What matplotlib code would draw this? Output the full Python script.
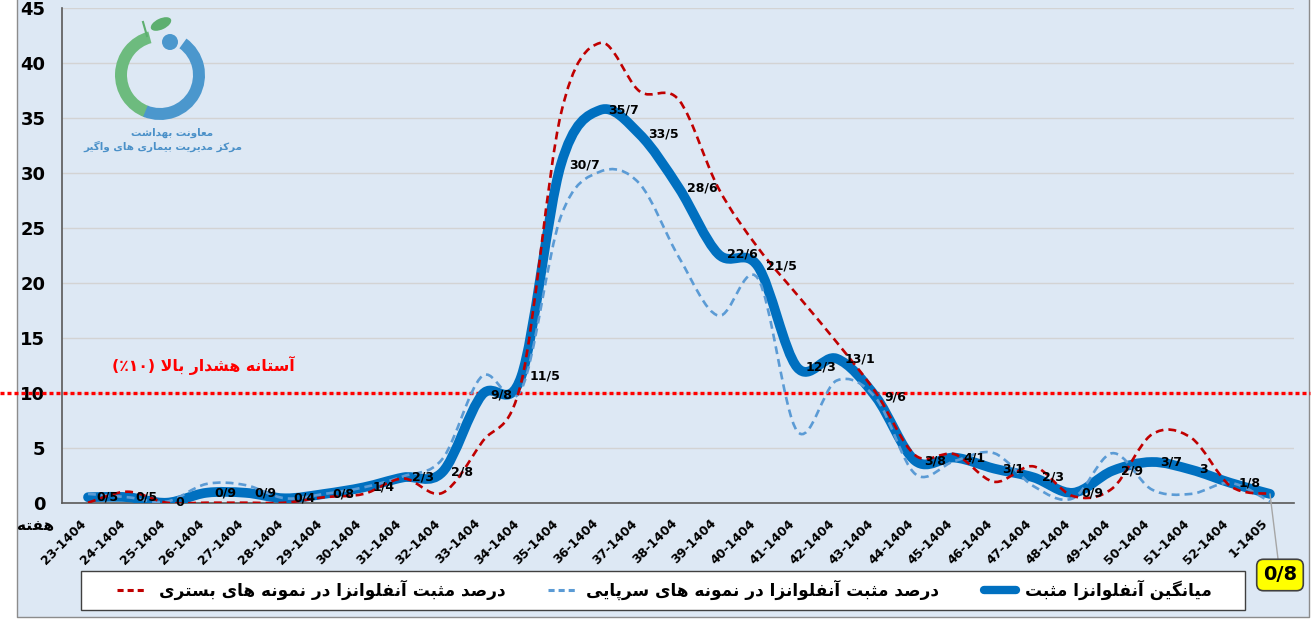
import numpy as np
import matplotlib
matplotlib.use('Agg')
import matplotlib.pyplot as plt
import matplotlib.transforms as mtransforms
from matplotlib.path import Path
from matplotlib.patches import PathPatch, Rectangle, Wedge, Circle, Ellipse
from matplotlib.lines import Line2D

# weeks (category axis)
weeks = ['23-1404', '24-1404', '25-1404', '26-1404', '27-1404', '28-1404', '29-1404',
         '30-1404', '31-1404', '32-1404', '33-1404', '34-1404', '35-1404', '36-1404',
         '37-1404', '38-1404', '39-1404', '40-1404', '41-1404', '42-1404', '43-1404',
         '44-1404', '45-1404', '46-1404', '47-1404', '48-1404', '49-1404', '50-1404',
         '51-1404', '52-1404', '1-1405']

# mean positive influenza (%)
mean_pos = [0.5, 0.5, 0, 0.9, 0.9, 0.4, 0.8, 1.4, 2.3, 2.8, 9.8, 11.5, 30.7, 35.7, 33.5,
            28.6, 22.6, 21.5, 12.3, 13.1, 9.6, 3.8, 4.1, 3.1, 2.3, 0.9, 2.9, 3.7, 3, 1.8, 0.8]
# outpatient samples (%)
outpatient = [0.8, 0.5, 0.1, 1.7, 1.6, 0.4, 0.8, 1.4, 2.4, 4.0, 11.5, 10.3, 26.0, 30.1, 29.0,
              22.3, 17.0, 20.4, 6.5, 11.1, 9.5, 2.6, 3.8, 4.5, 1.5, 0.4, 4.5, 1.2, 0.8, 1.8, 0.1]
# inpatient samples (%)
inpatient = [0, 1.0, 0, 0, 0, 0, 0.5, 0.8, 2.2, 0.9, 5.5, 11.0, 35.3, 41.8, 37.4,
             36.6, 28.6, 23.2, 18.9, 14.6, 10.0, 4.3, 4.4, 1.9, 3.3, 0.6, 1.3, 6.2, 5.9, 1.5, 0.8]

threshold = 10
yticks = [0, 5, 10, 15, 20, 25, 30, 35, 40, 45]

BG = '#DDE8F4'
W, H = 1312, 636

# --- tiny persian shaper (matplotlib has no complex text layout) ---
FORMS = {
    'آ': ('\uFE81', '\uFE82', None, None),
    'ا': ('\uFE8D', '\uFE8E', None, None),
    'ب': ('\uFE8F', '\uFE90', '\uFE91', '\uFE92'),
    'پ': ('\uFB56', '\uFB57', '\uFB58', '\uFB59'),
    'ت': ('\uFE95', '\uFE96', '\uFE97', '\uFE98'),
    'ث': ('\uFE99', '\uFE9A', '\uFE9B', '\uFE9C'),
    'د': ('\uFEA9', '\uFEAA', None, None),
    'ر': ('\uFEAD', '\uFEAE', None, None),
    'ز': ('\uFEAF', '\uFEB0', None, None),
    'س': ('\uFEB1', '\uFEB2', '\uFEB3', '\uFEB4'),
    'ش': ('\uFEB5', '\uFEB6', '\uFEB7', '\uFEB8'),
    'ص': ('\uFEB9', '\uFEBA', '\uFEBB', '\uFEBC'),
    'ع': ('\uFEC9', '\uFECA', '\uFECB', '\uFECC'),
    'ف': ('\uFED1', '\uFED2', '\uFED3', '\uFED4'),
    'ک': ('\uFB8E', '\uFB8F', '\uFB90', '\uFB91'),
    'گ': ('\uFB92', '\uFB93', '\uFB94', '\uFB95'),
    'ل': ('\uFEDD', '\uFEDE', '\uFEDF', '\uFEE0'),
    'م': ('\uFEE1', '\uFEE2', '\uFEE3', '\uFEE4'),
    'ن': ('\uFEE5', '\uFEE6', '\uFEE7', '\uFEE8'),
    'ه': ('\uFEE9', '\uFEEA', '\uFEEB', '\uFEEC'),
    'و': ('\uFEED', '\uFEEE', None, None),
    'ی': ('\uFBFC', '\uFBFD', '\uFBFE', '\uFBFF'),
}
LAM_ALEF = {'ا': ('\uFEFB', '\uFEFC'), 'آ': ('\uFEF5', '\uFEF6')}


def shape(text):
    out = []
    i = 0
    while i < len(text):
        c = text[i]
        if c not in FORMS:
            out.append(c)
            i += 1
            continue
        prev = text[i - 1] if i > 0 else None
        joins_prev = prev in FORMS and FORMS[prev][2] is not None
        if c == 'ل' and i + 1 < len(text) and text[i + 1] in LAM_ALEF:
            out.append(LAM_ALEF[text[i + 1]][1 if joins_prev else 0])
            i += 2
            continue
        nxt = text[i + 1] if i + 1 < len(text) else None
        joins_next = FORMS[c][2] is not None and nxt in FORMS
        iso, fin, ini, med = FORMS[c]
        if joins_prev and joins_next:
            out.append(med)
        elif joins_prev:
            out.append(fin)
        elif joins_next:
            out.append(ini)
        else:
            out.append(iso)
        i += 1
    return ''.join(out)


def rtl(text):
    return shape(text)[::-1]


def smooth_path(xs, ys):
    # excel style smoothed line: cubic bezier through every point
    pts = np.column_stack([xs, ys]).astype(float)
    n = len(pts)
    verts = [pts[0]]
    codes = [Path.MOVETO]
    for i in range(n - 1):
        p0 = pts[i - 1] if i > 0 else pts[i]
        p1, p2 = pts[i], pts[i + 1]
        p3 = pts[i + 2] if i + 2 < n else pts[i + 1]
        verts += [p1 + (p2 - p0) / 6, p2 - (p3 - p1) / 6, p2]
        codes += [Path.CURVE4] * 3
    return Path(verts, codes)


def Y(v):
    return H - v


fig = plt.figure(figsize=(W / 100, H / 100), dpi=100, facecolor=BG)

# background outside the chart frame
bg = fig.add_axes([0, 0, 1, 1], zorder=-1)
bg.set_xlim(0, W)
bg.set_ylim(0, H)
bg.axis('off')
bg.add_patch(Rectangle((0, 0), W, Y(617), fc='white', ec='none'))
bg.add_patch(Rectangle((0, 0), 17, H, fc='white', ec='none'))
bg.add_patch(Rectangle((1309, 0), W - 1309, H, fc='white', ec='none'))
bg.plot([17, 17, 1309, 1309], [H, Y(617), Y(617), H], color='#8C8C8C', lw=1)

ax = fig.add_axes([62 / W, 1 - 502.7 / H, (1294 - 62) / W, (502.7 - 7.7) / H])
ax.set_facecolor(BG)
x = np.arange(len(weeks))
ax.set_xlim(-0.66, 30.61)
ax.set_ylim(0, 45)
ax.set_yticks(yticks)
ax.set_yticklabels([str(t) for t in yticks], fontsize=13, fontweight='bold')
ax.yaxis.grid(True, color='#D3D3D3', lw=1)
ax.set_axisbelow(True)
for s in ['top', 'right']:
    ax.spines[s].set_visible(False)
for s in ['left', 'bottom']:
    ax.spines[s].set_color('#595959')
    ax.spines[s].set_linewidth(1.2)
ax.tick_params(axis='both', length=0)
ax.tick_params(axis='y', pad=12)
ax.tick_params(axis='x', pad=13.5)
ax.set_xticks(x)
ax.set_xticklabels(weeks, rotation=45, ha='right', va='center', rotation_mode='anchor',
                   fontsize=9, fontweight='bold')
shift = mtransforms.ScaledTranslation(-0.04, 0, fig.dpi_scale_trans)
for lab in ax.get_xticklabels():
    lab.set_transform(lab.get_transform() + shift)

# threshold line across the whole chart
blend = mtransforms.blended_transform_factory(ax.transAxes, ax.transData)
ax.plot([(0 - 62) / 1232, (1310 - 62) / 1232], [threshold, threshold], transform=blend,
        color='#FF0000', lw=2.4, ls=(0, (1.2, 0.9)), dash_capstyle='butt', clip_on=False, zorder=2)

ax.add_patch(PathPatch(smooth_path(x, mean_pos), fill=False, ec='#0070C0', lw=7,
                       capstyle='round', joinstyle='round', zorder=3))
ax.add_patch(PathPatch(smooth_path(x, outpatient), fill=False, ec='#5B9BD5', lw=1.9,
                       ls=(0, (3, 1.9)), zorder=4))
ax.add_patch(PathPatch(smooth_path(x, inpatient), fill=False, ec='#C00000', lw=1.9,
                       ls=(0, (3, 1.9)), zorder=5))

for i, v in enumerate(mean_pos[:-1]):
    ax.annotate(f'{v:g}'.replace('.', '/'), (x[i], v), xytext=(6, 0), textcoords='offset points',
                ha='left', va='center', fontsize=9, fontweight='bold', zorder=6)
ax.annotate(f'{mean_pos[-1]:g}'.replace('.', '/'), (x[-1], mean_pos[-1]), xytext=(1280, Y(575)),
            textcoords='figure pixels', ha='center', va='center', fontsize=14, fontweight='bold',
            bbox=dict(boxstyle='round,pad=0.32,rounding_size=0.35', fc='#FFFF00', ec='#404040', lw=1.2),
            arrowprops=dict(arrowstyle='-', color='#A6A6A6', lw=1, shrinkA=0, shrinkB=0),
            annotation_clip=False, zorder=6)

# overlay for texts, legend and logo (pixel coords)
ov = fig.add_axes([0, 0, 1, 1], zorder=10)
ov.set_xlim(0, W)
ov.set_ylim(0, H)
ov.axis('off')
ov.patch.set_alpha(0)

ov.text(203, Y(365), '(٪۱۰) ' + rtl('آستانه هشدار بالا'), color='#FF0000', fontsize=11.3,
        fontweight='bold', ha='center', va='center')
ov.text(36, Y(526), rtl('هفته'), fontsize=11, fontweight='bold', ha='center', va='center')

# legend
ov.add_patch(Rectangle((81, Y(610)), 1164, 39, fc='white', ec='#404040', lw=1))
ly = Y(590)
ov.add_line(Line2D([117, 146], [ly, ly], color='#C00000', lw=2.2, ls=(0, (2, 1.3))))
ov.text(159, ly, rtl('درصد مثبت آنفلوانزا در نمونه های بستری'), fontsize=12.2, fontweight='bold',
        ha='left', va='center')
ov.add_line(Line2D([548, 577], [ly, ly], color='#5B9BD5', lw=2.2, ls=(0, (2, 1.3))))
ov.text(586, ly, rtl('درصد مثبت آنفلوانزا در نمونه های سرپایی'), fontsize=12.2, fontweight='bold',
        ha='left', va='center')
ov.add_line(Line2D([984, 1016], [ly, ly], color='#0070C0', lw=6, solid_capstyle='round'))
ov.text(1025, ly, rtl('میانگین آنفلوانزا مثبت'), fontsize=12.2, fontweight='bold',
        ha='left', va='center')

# logo
c = (160, Y(75))
ov.add_patch(Wedge(c, 45, 105, 250, width=12, fc='#6DBB7E', ec='none'))
ov.add_patch(Wedge(c, 45, -112, 54, width=12, fc='#4B97CD', ec='none'))
ov.add_patch(Circle((170, Y(42)), 8, fc='#4B97CD', ec='none'))
ov.add_patch(Ellipse((161, Y(24)), 22, 11, angle=25, fc='#5DAF70', ec='none'))
ov.add_line(Line2D([143, 147], [Y(22), Y(36)], color='#5DAF70', lw=1.5))
ov.text(172, Y(133), rtl('معاونت بهداشت'), fontsize=7.5, fontweight='bold', color='#4A90C8',
        ha='center', va='center')
ov.text(163, Y(146), rtl('مرکز مدیریت بیماری های واگیر'), fontsize=7.5, fontweight='bold',
        color='#4A90C8', ha='center', va='center')

fig.savefig('out.png', dpi=100, facecolor=BG)
